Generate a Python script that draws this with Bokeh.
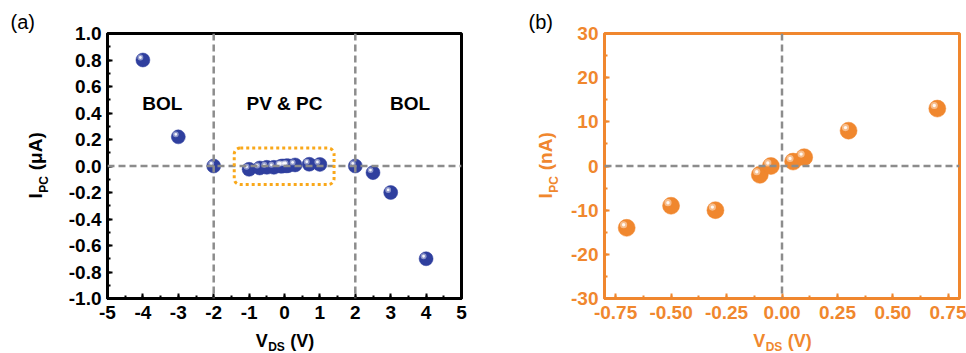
import numpy as np
from bokeh.plotting import figure
from bokeh.layouts import row, column
from bokeh.models import (Span, Label, Title, BoxAnnotation, FixedTicker, CustomJSTickFormatter,
                          Range1d)
from bokeh.embed import file_html
from bokeh.resources import INLINE

# ---------------- data ----------------
a_vds = [-4, -3, -2, -1, -0.7, -0.5, -0.3, -0.1, -0.05, 0.05, 0.1, 0.3, 0.7, 1, 2, 2.5, 3, 4]
a_ipc = [0.80, 0.22, 0.0, -0.025, -0.015, -0.01, -0.01, -0.002, 0.0, 0.001, 0.002, 0.008, 0.013, 0.012,
         0.0, -0.05, -0.20, -0.70]
a_xticks = [-5, -4, -3, -2, -1, 0, 1, 2, 3, 4, 5]
a_yticks = [-1.0, -0.8, -0.6, -0.4, -0.2, 0.0, 0.2, 0.4, 0.6, 0.8, 1.0]
a_regions = ["BOL", "PV & PC", "BOL"]
a_region_x = [-3.45, 0.0, 3.55]

b_vds = [-0.7, -0.5, -0.3, -0.1, -0.05, 0.05, 0.1, 0.3, 0.7]
b_ipc = [-14, -9, -10, -2, 0, 1, 2, 8, 13]
b_xticks = [-0.75, -0.5, -0.25, 0.0, 0.25, 0.5, 0.75]
b_yticks = [-30, -20, -10, 0, 10, 20, 30]

BLUE = "#2F3F9E"
ORANGE = "#F0872E"
GRAY = "#8C8C8C"
FONT = "Liberation Sans"

H_MAIN = 331          # height of the plotting row
H_XL = 22             # height of the x-label strip
FT, FB = 33, 298      # frame top / bottom inside main figures


def make_fig(width, fl, fr, xr, yr, color, xticks, yticks, xminor, yminor, xfmt, yfmt):
    p = figure(width=width, height=H_MAIN, output_backend="svg", toolbar_location=None,
               x_range=Range1d(*xr), y_range=Range1d(*yr),
               min_border_left=fl, min_border_right=width - fr,
               min_border_top=FT, min_border_bottom=H_MAIN - FB)
    p.grid.visible = False
    p.outline_line_color = color
    p.outline_line_width = 3
    for ax, ticks, minor, fmt in ((p.xaxis[0], xticks, xminor, xfmt), (p.yaxis[0], yticks, yminor, yfmt)):
        ax.ticker = FixedTicker(ticks=ticks, minor_ticks=minor)
        ax.formatter = CustomJSTickFormatter(code="return tick.toFixed(%d)" % fmt)
        ax.axis_line_color = color
        ax.axis_line_width = 3
        ax.major_tick_in = 5
        ax.major_tick_out = 0
        ax.minor_tick_in = 3
        ax.minor_tick_out = 0
        ax.major_tick_line_color = color
        ax.minor_tick_line_color = color
        ax.major_tick_line_width = 2
        ax.minor_tick_line_width = 2
        ax.major_label_text_font = FONT
        ax.major_label_text_font_style = "bold"
        ax.major_label_text_font_size = "19px"
        ax.major_label_text_color = color
    p.xaxis.major_label_standoff = 7
    p.yaxis.major_label_standoff = 6
    return p


def strip(width, height, top=0, bottom=0, right=0):
    s = figure(width=width, height=height, output_backend="svg", toolbar_location=None,
               x_range=Range1d(0, width - right), y_range=Range1d(bottom, height - top),
               x_axis_location=None, y_axis_location=None,
               min_border_left=0, min_border_right=right, min_border_top=top,
               min_border_bottom=bottom)
    s.grid.visible = False
    s.outline_line_color = None
    return s


def put(s, px, py, text, size, color, bold=True, angle=0.0, align="left", baseline="middle"):
    # px, py: pixels from the strip's top-left corner
    s.add_layout(Label(x=px, y=s.height - py, text=text, text_font=FONT,
                       text_font_size="%dpx" % size,
                       text_font_style="bold" if bold else "normal", text_color=color,
                       angle=angle, text_align=align, text_baseline=baseline))


def x_label(width, right, cx, color):
    s = strip(width, H_XL, right=right)
    w_main, w_sub, w_sp = 0.667 * 18, 1.389 * 12, 0.278 * 18
    w_tail = 1.333 * 18
    x0 = cx - (w_main + w_sub + w_sp + w_tail) / 2
    put(s, x0, 9, "V", 18, color)
    put(s, x0 + w_main + 0.5, 15, "DS", 12, color)
    put(s, x0 + w_main + w_sub + w_sp + 1, 9, "(V)", 18, color)
    return s


def y_label(width, xl, color, unit, tag, tag_x):
    s = strip(width, H_MAIN, top=FT, bottom=H_MAIN - FB)
    s.title = Title(text=tag, align="left", offset=tag_x, standoff=2, text_font=FONT,
                    text_font_size="20px", text_font_style="normal", text_color="black")
    cy = (FT + FB) / 2
    w_main, w_sub, w_sp = 0.278 * 19, 1.389 * 12, 0.278 * 19
    w_tail = (0.333 + 0.6 + 0.722 + 0.333) * 19
    y0 = cy + (w_main + w_sub + w_sp + w_tail) / 2
    put(s, xl, y0, "I", 19, color, angle=np.pi / 2)
    put(s, xl + 8, y0 - w_main - 0.5, "PC", 12, color, angle=np.pi / 2)
    put(s, xl, y0 - w_main - w_sub - w_sp - 1, "(%s)" % unit, 19, color, angle=np.pi / 2)
    return s


def spheres(p, x, y, color, size):
    p.scatter(x, y, size=size, fill_color=color, line_color=color, line_width=0.5)
    xr, yr = p.x_range, p.y_range
    dx = -size * 0.18 / 354 * (xr.end - xr.start)
    dy = size * 0.18 / 265 * (yr.end - yr.start)
    hx = [v + dx for v in x]
    hy = [v + dy for v in y]
    p.scatter(hx, hy, size=size * 0.42, fill_color="white", fill_alpha=0.45, line_color=None)
    p.scatter(hx, hy, size=size * 0.2, fill_color="white", fill_alpha=0.9, line_color=None)


# ---------------- panel (a) ----------------
SA_W = 56
PA_W = 483 - SA_W
pa = make_fig(PA_W, 107 - SA_W, 461 - SA_W, (-5, 5), (-1, 1), "black", a_xticks, a_yticks,
              [v / 2 for v in range(-10, 11)], [v / 10 for v in range(-10, 11)], 0, 1)
for loc in (-2, 2):
    pa.add_layout(Span(location=loc, dimension="height", line_color=GRAY, line_width=2.5,
                       line_dash="7 4"))
pa.add_layout(Span(location=0, dimension="width", line_color=GRAY, line_width=2.5, line_dash="7 4"))
pa.add_layout(BoxAnnotation(left=-1.42, right=1.40, bottom=-0.14, top=0.135, fill_alpha=0,
                            line_color="#F9A81A", line_alpha=1.0, line_width=3, line_dash="3 3",
                            border_radius=6))
spheres(pa, a_vds, a_ipc, BLUE, 14)
for t, x in zip(a_regions, a_region_x):
    pa.add_layout(Label(x=x, y=0.475, text=t, text_font=FONT, text_font_size="19px",
                        text_font_style="bold", text_color="black", text_align="center",
                        text_baseline="middle"))
sa = y_label(SA_W, 35, "black", "μA", "(a)", 10)
xa = x_label(483, 22, (107 + 461) / 2, "black")

# ---------------- panel (b) ----------------
SB_W = 81
PB_W = 483 - SB_W
pb = make_fig(PB_W, 604 - 483 - SB_W, 959 - 483 - SB_W, (-0.8, 0.8), (-30, 30), ORANGE,
              b_xticks, b_yticks, [v / 8 for v in range(-6, 7)], list(range(-30, 31, 5)), 2, 0)
pb.add_layout(Span(location=0, dimension="height", line_color=GRAY, line_width=2.5, line_dash="7 4"))
pb.add_layout(Span(location=0, dimension="width", line_color=GRAY, line_width=2.5, line_dash="7 4"))
spheres(pb, b_vds, b_ipc, ORANGE, 17)
sb = y_label(SB_W, 545 - 483, ORANGE, "nA", "(b)", 528 - 483)
xb = x_label(483, 7, (604 + 959) / 2 - 483, ORANGE)

layout = row(column(row(sa, pa), xa), column(row(sb, pb), xb))
open("out.html", "w").write(file_html(layout, INLINE))
